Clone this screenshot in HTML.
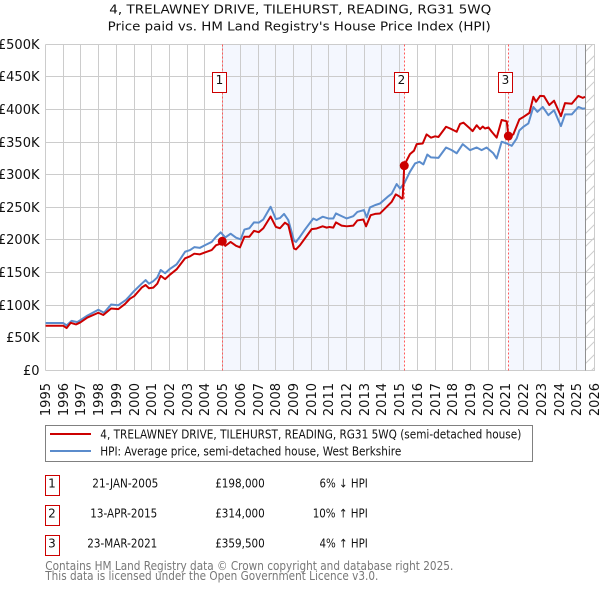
<!DOCTYPE html>
<html>
<head>
<meta charset="utf-8">
<title>4, Trelawney Drive price chart</title>
<style>
html,body{margin:0;padding:0;background:#fff;}
svg{display:block;font-family:"DejaVu Sans","Liberation Sans",sans-serif;}
</style>
</head>
<body>
<svg id="chart" width="600" height="590" viewBox="0 0 600 590" xmlns="http://www.w3.org/2000/svg">
<defs>
<pattern id="hatch" width="13" height="13" patternUnits="userSpaceOnUse">
<path d="M-2 15 L15 -2" stroke="#cccccc" stroke-width="1" fill="none"/>
</pattern>
</defs>
<text x="109.3" y="13.5" font-size="12.5" fill="#111" textLength="382" lengthAdjust="spacingAndGlyphs">4, TRELAWNEY DRIVE, TILEHURST, READING, RG31 5WQ</text>
<text x="107.7" y="30.5" font-size="12.5" fill="#111" textLength="383" lengthAdjust="spacingAndGlyphs">Price paid vs. HM Land Registry's House Price Index (HPI)</text>
<g id="shade"></g>
<g id="grid"></g>
<g id="yticks"></g>
<g id="xticks"></g>
<g id="sales"></g>
<g id="series"></g>
<g id="markers"></g>
<g id="labels"></g>

<g>
<rect x="45.5" y="425.5" width="487" height="36" fill="#fff" stroke="#808080" stroke-width="1"/>
<line x1="50" x2="91" y1="434" y2="434" stroke="#cc0000" stroke-width="2"/>
<text x="100.3" y="438.3" font-size="12" fill="#111" textLength="421" lengthAdjust="spacingAndGlyphs">4, TRELAWNEY DRIVE, TILEHURST, READING, RG31 5WQ (semi-detached house)</text>
<line x1="50" x2="91" y1="451" y2="451" stroke="#5b8ccc" stroke-width="2"/>
<text x="100.3" y="455.3" font-size="12" fill="#111" textLength="301" lengthAdjust="spacingAndGlyphs">HPI: Average price, semi-detached house, West Berkshire</text>
</g>

<g font-size="12" fill="#111">
<g>
<rect x="45.5" y="475.5" width="14" height="20" fill="#fff" stroke="#cc0000"/>
<text x="52" y="487.3" text-anchor="middle">1</text>
<text x="92.3" y="487.3" textLength="66" lengthAdjust="spacingAndGlyphs">21-JAN-2005</text>
<text x="215.2" y="487.3" textLength="49.6" lengthAdjust="spacingAndGlyphs">£198,000</text>
<text x="319.5" y="487.3" textLength="48.3" lengthAdjust="spacingAndGlyphs">6% ↓ HPI</text>
</g>
<g>
<rect x="45.5" y="505.5" width="14" height="20" fill="#fff" stroke="#cc0000"/>
<text x="52" y="517.3" text-anchor="middle">2</text>
<text x="90.3" y="517.3" textLength="67" lengthAdjust="spacingAndGlyphs">13-APR-2015</text>
<text x="215.2" y="517.3" textLength="49.6" lengthAdjust="spacingAndGlyphs">£314,000</text>
<text x="312.7" y="517.3" textLength="55.1" lengthAdjust="spacingAndGlyphs">10% ↑ HPI</text>
</g>
<g>
<rect x="45.5" y="535.5" width="14" height="20" fill="#fff" stroke="#cc0000"/>
<text x="52" y="547.3" text-anchor="middle">3</text>
<text x="87.3" y="547.3" textLength="70" lengthAdjust="spacingAndGlyphs">23-MAR-2021</text>
<text x="215.2" y="547.3" textLength="49.6" lengthAdjust="spacingAndGlyphs">£359,500</text>
<text x="319.5" y="547.3" textLength="48.3" lengthAdjust="spacingAndGlyphs">4% ↑ HPI</text>
</g>
</g>

<text x="45.3" y="570" font-size="12" fill="#777" textLength="408" lengthAdjust="spacingAndGlyphs">Contains HM Land Registry data © Crown copyright and database right 2025.</text>
<text x="45.3" y="580" font-size="12" fill="#777" textLength="333" lengthAdjust="spacingAndGlyphs">This data is licensed under the Open Government Licence v3.0.</text>
</svg>
<script>
var yearTicks = [1995,1996,1997,1998,1999,2000,2001,2002,2003,2004,2005,2006,2007,2008,2009,2010,2011,2012,2013,2014,2015,2016,2017,2018,2019,2020,2021,2022,2023,2024,2025,2026];
var priceTicks = [0,50,100,150,200,250,300,350,400,450,500];
var priceTickLabels = ["£0","£50K","£100K","£150K","£200K","£250K","£300K","£350K","£400K","£450K","£500K"];

var priceDates = [1995.00,1996.00,1996.19,1996.42,1996.72,1996.96,1997.36,1997.98,1998.26,1998.70,1999.11,1999.49,1999.77,2000.01,2000.43,2000.65,2000.84,2001.09,2001.31,2001.50,2001.75,2001.99,2002.40,2002.88,2003.16,2003.40,2003.72,2004.00,2004.38,2004.63,2004.85,2004.98,2005.15,2005.45,2005.76,2005.98,2006.23,2006.51,2006.77,2007.04,2007.30,2007.71,2008.01,2008.24,2008.52,2008.71,2009.03,2009.14,2009.37,2010.03,2010.31,2010.65,2010.88,2011.03,2011.25,2011.40,2011.72,2012.01,2012.38,2012.61,2012.95,2013.10,2013.36,2013.61,2013.89,2014.31,2014.55,2014.78,2014.98,2015.11,2015.17,2015.26,2015.58,2015.81,2015.96,2016.30,2016.52,2016.77,2017.00,2017.19,2017.62,2017.85,2018.22,2018.41,2018.60,2018.97,2019.12,2019.35,2019.54,2019.69,2019.82,2020.01,2020.20,2020.48,2020.76,2021.05,2021.14,2021.42,2021.76,2021.95,2022.33,2022.55,2022.70,2022.93,2023.15,2023.45,2023.72,2024.11,2024.34,2024.72,2025.09,2025.34,2025.47];
var priceValues = [68.5,68.5,65,73,70.5,73.6,81,88.4,85,95,94,102,110,114,127,131,126,127,133,145,140,146,155,172,175,179,178,181,184.5,192,194,198,191,197,191,188.7,205,205,214,212,218,236,220,218,226.5,223,187,185.6,192,216.7,217.7,221,219,220,219,227,222,221,222,230,231.5,221,238,240,240.7,252,258.6,270,267,263.7,263.7,314.8,331.7,337,347,348,362,357,359,358,373.7,371,366,378,380,371,367,376,370,374,371,372.7,366,357,384,382,358,362,385,388,395,419.6,412,421,420.6,407,413.6,390,410,409,421,418,419.6];

var hpiDates = [1995.00,1996.00,1996.19,1996.47,1996.79,1996.96,1997.36,1997.98,1998.30,1998.70,1999.11,1999.54,2000.01,2000.43,2000.65,2000.84,2001.09,2001.31,2001.50,2001.75,2001.99,2002.40,2002.59,2002.88,2003.16,2003.40,2003.72,2004.00,2004.38,2004.63,2004.89,2005.15,2005.45,2005.76,2006.02,2006.23,2006.51,2006.77,2007.04,2007.30,2007.71,2008.01,2008.24,2008.47,2008.71,2009.03,2009.14,2009.37,2009.65,2010.12,2010.31,2010.65,2010.97,2011.25,2011.40,2011.72,2012.01,2012.38,2012.61,2012.98,2013.14,2013.32,2013.61,2013.89,2014.31,2014.55,2014.83,2015.02,2015.26,2015.58,2015.87,2016.11,2016.34,2016.56,2016.77,2017.19,2017.62,2017.94,2018.22,2018.56,2018.97,2019.35,2019.63,2019.91,2020.29,2020.48,2020.76,2021.05,2021.33,2021.61,2021.76,2021.99,2022.27,2022.55,2022.78,2023.08,2023.40,2023.72,2024.11,2024.34,2024.72,2025.09,2025.34,2025.47];
var hpiValues = [72.6,72.6,69,76,74,77,84,93,88.4,101,100,108,122,133,138.5,133,137,142.6,154,149,155,162.6,170,182,184.5,189,188,192,197,205,211.7,204,209.6,203.5,201,216,218,227,226.6,231.6,251,232,233.6,240,230.6,199,197,205,216,233,230.5,235.7,233,233,240.7,236.6,233,236.6,243,245.9,234.6,250,253.5,256,266,271,285.8,279,287,304.6,317.4,320,316,331,326.7,326,341.9,337.8,333,347,337.8,341.9,337.8,341.9,333,325,350.7,348,344.5,355.8,368,373.7,378.8,404,396.6,404,391.5,399,374.7,392.6,392.6,404,401.4,402];

var saleDates = [2004.98,2015.26,2021.14];
var salePrices = [198,314,359.5];
var saleNumbers = ["1","2","3"];
var dataEndDate = 2025.52;

var SVGNS = "http://www.w3.org/2000/svg";
var plotLeft = 45.5, plotRight = 595, plotTop = 44.5, plotBottom = 370.5;

function xScale(year){ return 45.57 + 17.705 * (year - 1995); }
function yScale(k){ return 370.4 - 0.652 * k; }
function snap(v){ return Math.floor(v) + 0.5; }
function make(tag, parentId, attrs){
  var el = document.createElementNS(SVGNS, tag);
  for (var key in attrs) { el.setAttribute(key, attrs[key]); }
  document.getElementById(parentId).appendChild(el);
  return el;
}
function pathFrom(dates, values){
  var d = "";
  for (var i = 0; i < dates.length; i++) {
    d += (i ? "L" : "M") + xScale(dates[i]).toFixed(2) + " " + yScale(values[i]).toFixed(2);
  }
  return d;
}

var shadeA = make("rect", "shade", {x: xScale(saleDates[0]), y: plotTop, width: xScale(saleDates[1]) - xScale(saleDates[0]), height: plotBottom - plotTop, fill: "#f4f7fe"});


var shadeB = make("rect", "shade", {x: xScale(saleDates[2]), y: plotTop, width: xScale(dataEndDate) - xScale(saleDates[2]), height: plotBottom - plotTop, fill: "#f4f7fe"});


var hatchArea = make("rect", "shade", {x: xScale(dataEndDate), y: plotTop, width: plotRight - xScale(dataEndDate), height: plotBottom - plotTop, fill: "url(#hatch)"});



yearTicks.forEach(function(year){
  var gx = snap(xScale(year));
  var vLine = make("line", "grid", {x1: gx, x2: gx, y1: plotTop, y2: plotBottom, stroke: "#cccccc", "stroke-width": 1});
  
  
  var label = make("text", "xticks", {transform: "translate(" + (gx + 4.7) + ",383) rotate(-90)", "text-anchor": "end", "font-size": 13, fill: "#111"});
  label.textContent = year;
  
  
});
priceTicks.forEach(function(k, i){
  var gy = snap(yScale(k));
  var hLine = make("line", "grid", {x1: plotLeft, x2: plotRight, y1: gy, y2: gy, stroke: "#cccccc", "stroke-width": 1});
  
  
  var label = make("text", "yticks", {x: 39.5, y: gy + 4.3, "text-anchor": "end", "font-size": 13, fill: "#111"});
  label.textContent = priceTickLabels[i];
  
  
});

var endLine = make("line", "grid", {x1: snap(xScale(dataEndDate)), x2: snap(xScale(dataEndDate)), y1: plotTop, y2: plotBottom, stroke: "#909090", "stroke-width": 1});



saleDates.forEach(function(date){
  var sx = snap(xScale(date));
  var dash = make("line", "sales", {x1: sx, x2: sx, y1: plotTop, y2: plotBottom, stroke: "#ff5a5a", "stroke-width": 1, "stroke-dasharray": "2 2"});
  
  
});

var hpiLine = make("path", "series", {d: pathFrom(hpiDates, hpiValues), fill: "none", stroke: "#5b8ccc", "stroke-width": 2, "stroke-linejoin": "round"});


var priceLine = make("path", "series", {d: pathFrom(priceDates, priceValues), fill: "none", stroke: "#cc0000", "stroke-width": 2, "stroke-linejoin": "round"});



saleDates.forEach(function(date, i){
  var dot = make("circle", "markers", {cx: xScale(date), cy: yScale(salePrices[i]), r: 4.5, fill: "#cc0000"});
  
  
  var bx = snap(xScale(date)) - 10;
  var box = make("rect", "labels", {x: bx, y: 72.5, width: 14, height: 20, fill: "#fff", stroke: "#cc0000", "stroke-width": 1});
  
  
  var num = make("text", "labels", {x: bx + 7, y: 84, "text-anchor": "middle", "font-size": 12, fill: "#111"});
  num.textContent = saleNumbers[i];
  
  
});
</script>
</body>
</html>
